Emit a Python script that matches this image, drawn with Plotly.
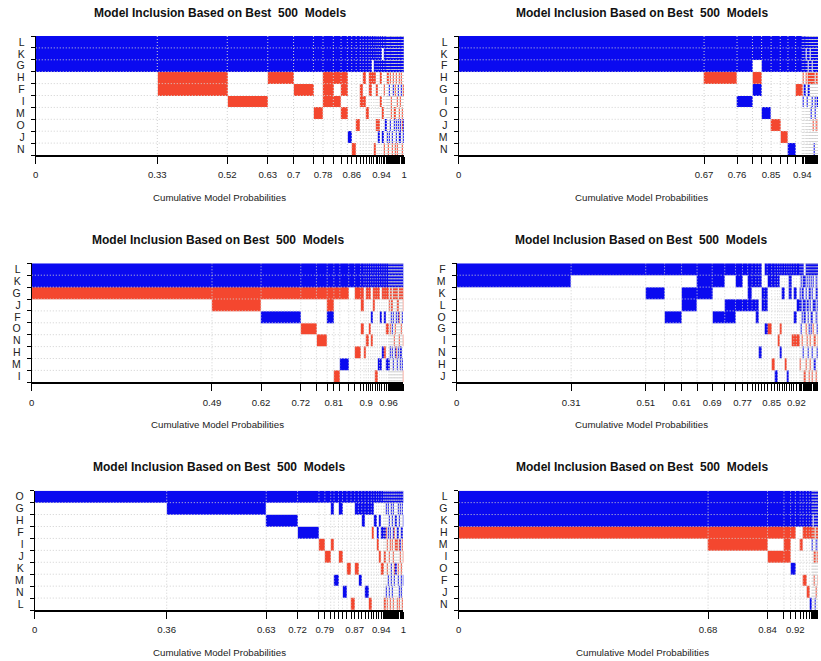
import plotly.graph_objects as go

# ---------------- data ----------------
# Panel 1
p1_rows = ["L", "K", "G", "H", "F", "I", "M", "O", "J", "N"]
p1_cum = [0, 0.33, 0.52, 0.63, 0.70, 0.754, 0.78, 0.808, 0.829, 0.846, 0.858, 0.870, 0.881,
          0.889, 0.897, 0.905, 0.911, 0.918, 0.924, 0.929, 0.934, 0.939, 0.944, 0.948, 0.952,
          0.955, 0.958, 0.960, 0.962, 0.965, 0.967, 0.969, 0.971, 0.974, 0.976, 0.978, 0.980,
          0.983, 0.985, 0.987, 0.989, 0.992, 0.994, 0.996, 0.998, 1.0]
p1_models = ["+++.......", "+++--.....", "+++..-....", "+++-......", "+++.-.....", "+++...-...",
             "+++---....", "+++-.-....", "+++--.-...", "+++.....+.", "+++......-", "+++....-..",
             "+++.--....", "+++-.-....", "+++...-...", "+++--.....", "++.-......", "+++-.....-",
             "+++.-..-..", "+++....-+.", "+++-.-....", "+.+...-.+.", "+++.-....-", "+++....+..",
             "+++-....+.",
             "+++-.....-", "+++.+...+.", "+.+..-....", "+++-...+..", "+++..--...", "+++.....+-",
             "+++-+.....", "+++...-+..", "++.-....+.", "+++.-.-..-", "+++-...++.", "+++..-...-",
             "+++.+..+..", "+++-..-.+.", "+++.-....-", "+++..-.++.", "+++-+.....", "+++...--.-",
             "+++.-..++.", "+++-.-...-"]
p1_tick_at = [0, 0.33, 0.52, 0.63, 0.70, 0.78, 0.858, 0.939, 1.0]
p1_tick_text = ["0", "0.33", "0.52", "0.63", "0.7", "0.78", "0.86", "0.94", "1"]

# Panel 2
p2_rows = ["L", "K", "F", "H", "G", "I", "O", "J", "M", "N"]
p2_cum = [0, 0.67, 0.76, 0.802, 0.827, 0.853, 0.878, 0.899, 0.920, 0.938, 0.942, 0.946, 0.950,
          0.953, 0.956, 0.958, 0.960, 0.962, 0.964, 0.966, 0.968, 0.970, 0.972, 0.974, 0.976,
          0.978, 0.980, 0.982, 0.984, 0.986, 0.988, 0.990, 0.992, 0.994, 0.996, 0.998, 1.0]
p2_models = ["+++.......", "+++-......", "+++..+....", "++.-+.....", "+++...+...", "+++....-..",
             "+++.....-.", "+++......+", "+++.-.....", "+++-.+....", "+++.+.....", "+.+-......",
             "+++..+....", "++.-+.....",
             "+++-+.....", "+.+-......", "+++.++....", "+++-..+...", "++.-.+....", "+++-...-..",
             "+++.+...-.", "+++-.....+", "+++..++...", "+++-...-..", "+++.+...-+", "+++-.+....",
             "+++..+.-..", "+++-....-.", "++.+.....+", "+++-.+....", "+++.+..-..", "+++-..+...",
             "+++.....-+", "+++-+.....", "+++..+....", "+++-...-.."]
p2_tick_at = [0, 0.67, 0.76, 0.853, 0.938]
p2_tick_text = ["0", "0.67", "0.76", "0.85", "0.94"]

# Panel 3
p3_rows = ["L", "K", "G", "J", "F", "O", "N", "H", "M", "I"]
p3_cum = [0, 0.485, 0.617, 0.724, 0.766, 0.795, 0.813, 0.829, 0.853, 0.869, 0.885, 0.894, 0.900,
          0.906, 0.912, 0.918, 0.924, 0.930, 0.936, 0.942, 0.948, 0.954, 0.960, 0.962, 0.964,
          0.966, 0.968, 0.970, 0.972, 0.974, 0.976, 0.978, 0.980, 0.982, 0.984, 0.986, 0.988,
          0.990, 0.992, 0.994, 0.996, 0.998, 1.0]
p3_models = ["++-.......", "++--......", "++-.+.....", "++-..-....", "++-...-...", "++--+.....",
             "++-......-", "++-.....+.", "++........", "++-....-..", "++--.-....", "++.....-..",
             "++-...-...", "++-..-....", "++..+.-...", "++--......", "++-......-", "++-.....+.",
             "++..+...+.", "++-....+..", "++-.+..-..", "++-..-..+.",
             "++-.+....-", "++.-....+.", "++-..-.+..", "++--+.....", "++-...-..-", "++.-.+.+..",
             "++-.+...+.", "++-...-...", "++.-+...+-", "++-..-.+..", "++-.+..-..", "++--....+.",
             "++-..-...-", "++.-+..+..", "++-.-.-...", "++-....++.", "++.-+....-", "++-..-.+..",
             "++-.+...+.", "++--..-..-"]
p3_tick_at = [0, 0.485, 0.617, 0.724, 0.813, 0.900, 0.960]
p3_tick_text = ["0", "0.49", "0.62", "0.72", "0.81", "0.9", "0.96"]

# Panel 4
p4_rows = ["F", "M", "K", "L", "O", "G", "I", "N", "H", "J"]
p4_cum = [0, 0.31, 0.512, 0.563, 0.609, 0.651, 0.692, 0.726, 0.755, 0.774, 0.788, 0.800, 0.810,
          0.818, 0.825, 0.833, 0.841, 0.853, 0.862, 0.869, 0.875, 0.881, 0.888, 0.894, 0.900,
          0.906, 0.913, 0.920, 0.929, 0.932, 0.935, 0.938, 0.941, 0.944, 0.947, 0.950, 0.953,
          0.956, 0.959, 0.962, 0.965, 0.968, 0.971, 0.974, 0.977, 0.980, 0.983, 0.986, 0.989,
          0.992, 0.995, 0.998, 1.0]
p4_models = ["++........", "+.........", "+.+.......", "+...+.....", "+.++......", "+++.......",
             "++..+.....", "+..++.....", "++.+......", "+..+......", "++++......", "++.+......",
             "++.++.....", "++.....+..", "..++......", "+.++.+....", "++...-....", "++......-.",
             "++.......+", "++....-...", "+....-.+..", "+.+.......", "+.......-.", "+........+",
             "+++.......", "+.....-...", "+.+.+.-...", "+..+..-...",
             "+.++....-.", "++.+.+....", "+.+.+.-...", "++++...+..", ".+.++....-", "+.+..-..-.",
             "++.+..-...", "+..++..+..", "+++..+...-", "+.++..-.-.", "++..++....", "+.+.+..+.-",
             "++.+.-....", "+..+..-.+.", "+++.+....-", "+.++.+.+..", "++..+.-...", "+.+....+-.",
             "++.++....-", "+.+.+.-...", "++.+.+....", "+..++..+..", "+++....-.-", "+.+.+.-..."]
p4_tick_at = [0, 0.31, 0.512, 0.609, 0.692, 0.774, 0.853, 0.920]
p4_tick_text = ["0", "0.31", "0.51", "0.61", "0.69", "0.77", "0.85", "0.92"]

# Panel 5
p5_rows = ["O", "G", "H", "F", "I", "J", "K", "M", "N", "L"]
p5_cum = [0, 0.358, 0.628, 0.713, 0.771, 0.787, 0.803, 0.812, 0.824, 0.835, 0.847, 0.858, 0.868,
          0.878, 0.887, 0.896, 0.905, 0.913, 0.920, 0.927, 0.933, 0.940, 0.946, 0.948, 0.951,
          0.953, 0.956, 0.958, 0.961, 0.963, 0.966, 0.968, 0.971, 0.973, 0.976, 0.978, 0.981,
          0.983, 0.986, 0.988, 0.991, 0.993, 0.996, 0.998, 1.0]
p5_models = ["+.........", "++........", "+.+.......", "+..+......", "+...-.....", "+....-....",
             "++..-.....", "+......+..", "++...-....", "+.......+.", "+.....-...", "+........-",
             "++....-...", "++.....+..", "+++.......", "++......+.", "++.......-", "++.-......",
             "+.+.......", "+..+-.....", "+.+..-....", "+..+..-...",
             "++..-...+.", "+..+.-...-", "+.+...-+..", "++.-....+.", "+...-.-..-", "++.+...+..",
             "+.+..-..+.", "+..+-....-", "++....++..", "+.+.-...+.", "++.+.-...-", "+..-..-+..",
             "++.+....+-", "+.+.-.+...", "++...-.++.", "+..+-....-", "++.+..-+..", "+.+.-...+-",
             "++..+-....", "+..+..-++.", "++.+-....-", "+.+..-.+.."]
p5_tick_at = [0, 0.358, 0.628, 0.713, 0.787, 0.868, 0.940, 1.0]
p5_tick_text = ["0", "0.36", "0.63", "0.72", "0.79", "0.87", "0.94", "1"]

# Panel 6
p6_rows = ["L", "G", "K", "H", "M", "I", "O", "F", "J", "N"]
p6_cum = [0, 0.68, 0.842, 0.887, 0.905, 0.918, 0.931, 0.939, 0.948, 0.956, 0.963, 0.965, 0.967,
          0.969, 0.971, 0.973, 0.975, 0.977, 0.979, 0.981, 0.983, 0.985, 0.987, 0.989, 0.991,
          0.993, 0.995, 0.997, 1.0]
p6_models = ["+++-......", "+++--.....", "+++-.-....", "+++---....", "+++-..+...", "+++.......",
             "+++.-.....", "+++-...-..", "+++-....-.", "+++-.....+",
             "+++-+.....", "++.-......", "+++-..+...", "+++-.-.-..", "+++..-...+", "+++-+...-.",
             "++.-..+...", "+++-.-....", "+++-+..-..", "+++-....-+", "++.-.-....", "+++-+.+...",
             "+++-...-..", "+++..-..-.", "+++-+....+", "++.-..+...", "+++-.-.-..", "+++-+....."]
p6_tick_at = [0, 0.68, 0.842, 0.918]
p6_tick_text = ["0", "0.68", "0.84", "0.92"]

TITLE = "Model Inclusion Based on Best\u00a0 500\u00a0 Models"
XTITLE = "Cumulative Model Probabilities"

# ---------------- style / geometry ----------------
W, H = 821, 661
RED = "#F4472F"
BLUE = "#0A0AF0"
FONT = "Liberation Sans, Arial, sans-serif"

panels = [
    (p1_rows, p1_cum, p1_models, p1_tick_at, p1_tick_text),
    (p2_rows, p2_cum, p2_models, p2_tick_at, p2_tick_text),
    (p3_rows, p3_cum, p3_models, p3_tick_at, p3_tick_text),
    (p4_rows, p4_cum, p4_models, p4_tick_at, p4_tick_text),
    (p5_rows, p5_cum, p5_models, p5_tick_at, p5_tick_text),
    (p6_rows, p6_cum, p6_models, p6_tick_at, p6_tick_text),
]
# (left px, px per unit, top px, bottom px, title y, xtitle y)
geom = [
    (33, 371, 36, 155, 13, 197),
    (459, 369, 36, 155, 13, 197),
    (29, 374.3, 263.3, 382.3, 240, 424),
    (457, 372, 263.3, 382.3, 240, 424),
    (32, 371.3, 490.7, 610, 467, 652),
    (459, 369.5, 490.7, 610, 467, 652),
]

sign = {"+": 1, "-": -1, ".": 0}
cscale = [[0, RED], [0.3333, RED], [0.3333, "white"], [0.6667, "white"], [0.6667, BLUE], [1, BLUE]]

fig = go.Figure()
layout = dict(width=W, height=H, margin=dict(l=0, r=0, t=0, b=0),
              paper_bgcolor="white", plot_bgcolor="white", showlegend=False,
              font=dict(family=FONT, color="#111"))
annotations = []

for i, ((rows, cum, models, tat, ttxt), (lpx, scale, top, bot, ty, xty)) in enumerate(zip(panels, geom)):
    k = "" if i == 0 else str(i + 1)
    n = len(rows)
    z = [[sign[m[r]] for m in models] for r in range(n)]
    x_end = min(1.0, (W - lpx) / scale)
    right_px = min(W, lpx + scale * 1.0)
    fig.add_trace(go.Heatmap(x=cum, y=list(range(n + 1)), z=z, colorscale=cscale,
                             zmin=-1, zmax=1, showscale=False, zsmooth=False,
                             hoverinfo="skip", xaxis="x" + k, yaxis="y" + k))
    # dotted grid
    gx, gy = [], []
    for r in range(1, n):
        gx += [0, 1, None]
        gy += [r, r, None]
    for c in cum[1:-1]:
        gx += [c, c, None]
        gy += [0, n, None]
    fig.add_trace(go.Scatter(x=gx, y=gy, mode="lines", hoverinfo="skip",
                             line=dict(color="#D0D0D0", width=1, dash="1px,2px"),
                             xaxis="x" + k, yaxis="y" + k))
    layout["xaxis" + k] = dict(
        domain=[lpx / W, right_px / W], range=[0, x_end], anchor="y" + k,
        showgrid=False, zeroline=False, showline=True, linecolor="black", linewidth=1.5,
        tickmode="array", tickvals=tat, ticktext=ttxt, ticks="outside", ticklen=7,
        tickwidth=1, tickcolor="black", tickfont=dict(size=9.6, color="#222"),
        ticklabelstandoff=3,
        minor=dict(tickmode="array", tickvals=cum, ticks="outside", ticklen=7,
                   tickwidth=1, tickcolor="black", showgrid=False),
        fixedrange=True)
    layout["yaxis" + k] = dict(
        domain=[1 - bot / H, 1 - top / H], range=[n, 0], anchor="x" + k,
        showgrid=False, zeroline=False, showline=True, linecolor="black", linewidth=1,
        tickmode="array", tickvals=[r + 0.5 for r in range(n)], ticktext=rows,
        ticks="outside", ticklen=4, tickcolor="rgba(0,0,0,0)",
        tickfont=dict(size=10.5, color="#222"), ticklabelstandoff=4,
        minor=dict(tickmode="array", tickvals=list(range(n + 1)), ticks="outside",
                   ticklen=4, tickwidth=1, tickcolor="black", showgrid=False),
        fixedrange=True)
    annotations.append(dict(text="<b>" + TITLE + "</b>", x=0.5, xref="x" + k,
                            y=1 - ty / H, yref="paper", showarrow=False,
                            xanchor="center", yanchor="middle",
                            font=dict(size=12, color="#111", family=FONT)))
    annotations.append(dict(text=XTITLE, x=0.5, xref="x" + k,
                            y=1 - xty / H, yref="paper", showarrow=False,
                            xanchor="center", yanchor="middle",
                            font=dict(size=9.7, color="#222", family=FONT)))

layout["annotations"] = annotations
fig.update_layout(**layout)
fig.write_html("out.html")
